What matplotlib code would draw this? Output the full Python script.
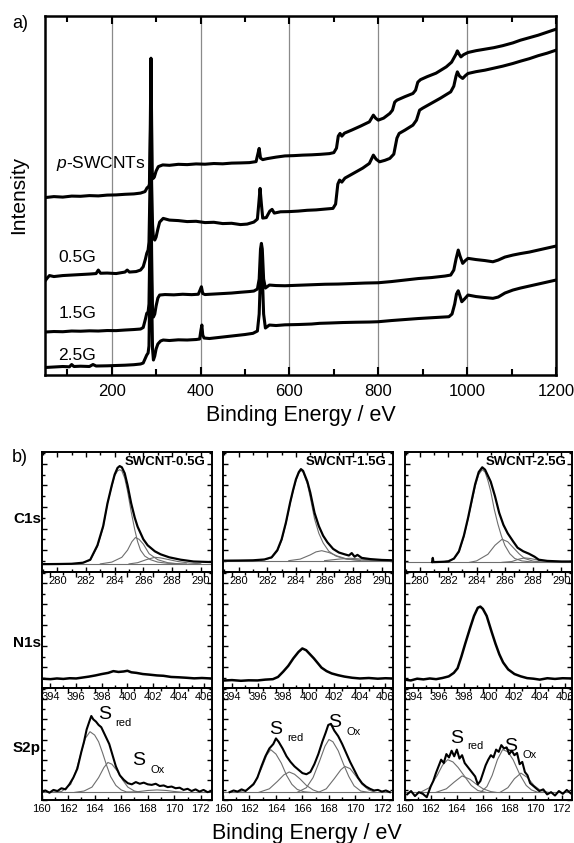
import numpy as np
import matplotlib
matplotlib.use("Agg")
import matplotlib.pyplot as plt
from matplotlib.ticker import MultipleLocator, NullFormatter

plt.rcParams['font.family'] = ['Liberation Sans', 'DejaVu Sans']
plt.rcParams['mathtext.fontset'] = 'custom'
plt.rcParams['mathtext.it'] = 'Liberation Sans:italic'
plt.rcParams['mathtext.rm'] = 'Liberation Sans'

# ---------------- (a) survey spectra (intensity in arbitrary units) ----------------
survey_labels = ["$\\it{p}$-SWCNTs", "0.5G", "1.5G", "2.5G"]

p_E = [50, 70, 90, 110, 130, 150, 170, 190, 210, 230, 250, 265, 275, 280, 283, 285, 287, 288.5, 290, 291.5, 293, 296, 300, 305, 315, 330, 350, 370, 390, 410, 430, 450, 470, 490, 510, 525, 530, 532, 535, 540, 550, 570, 590, 610, 630, 650, 670, 690, 700, 706, 710, 714, 718, 724, 740, 760, 780, 789, 794, 800, 812, 826, 832, 837, 842, 860, 878, 884, 889, 895, 910, 930, 953, 965, 975, 978, 982, 986, 992, 1002, 1020, 1040, 1060, 1080, 1103, 1120, 1140, 1160, 1180, 1200]
p_I = [176.5, 177.5, 177, 178, 177.8, 178.5, 178.2, 179, 179.2, 179.8, 180.2, 181, 182.5, 186.5, 187, 190, 250, 316, 250, 200, 195.5, 197, 203, 207.5, 209.2, 208.8, 209.8, 209.5, 210.2, 209.9, 210.6, 210.3, 211, 211.2, 211.5, 212.5, 222, 225.7, 216, 214.5, 215.5, 217, 218.2, 218.5, 219, 219.3, 219.8, 220.5, 221.5, 226, 238, 240.7, 238, 241, 244, 248, 252.3, 259, 256, 254, 256, 260.7, 264, 272, 274, 277.5, 280.7, 284, 292, 294.5, 297.5, 301, 307.3, 312, 320, 323.3, 320, 317.3, 319.5, 321.7, 323.5, 325, 326.5, 328.5, 331.3, 334, 336.5, 339, 342, 345]

g05_E = [50, 55, 60, 70, 90, 110, 130, 150, 165, 170, 175, 190, 210, 230, 235, 240, 255, 265, 271, 276, 279, 282, 284, 286, 288, 290, 292, 294, 297, 300, 304, 308, 316, 330, 350, 370, 390, 410, 430, 450, 470, 490, 505, 520, 528, 531, 534, 537, 540, 548, 556, 561, 566, 580, 600, 620, 640, 660, 680, 698, 704, 709, 713, 718, 725, 745, 765, 780, 789, 795, 803, 815, 826, 835, 842, 847, 860, 878, 886, 893, 900, 920, 940, 963, 970, 975, 978, 983, 990, 996, 1002, 1020, 1040, 1060, 1080, 1103, 1120, 1140, 1160, 1180, 1200]
g05_I = [93, 96, 98.5, 97.5, 98.5, 99, 99.5, 100, 100.5, 104, 100.8, 101, 100.5, 102, 104, 102, 102.5, 104, 107.3, 115, 120.7, 124, 132, 180, 265, 190, 150, 136, 134, 137, 145, 152, 155.7, 154, 153.5, 152.5, 152.8, 151.5, 151.8, 150.5, 150.8, 149.5, 150, 152, 155, 170, 185.7, 170, 156, 156.5, 163, 164.7, 161, 162.3, 162.5, 163, 163.8, 164.2, 165, 165.7, 170, 190, 194, 192, 196, 201, 206, 210.7, 219, 215, 212.3, 213.8, 215.7, 220, 236, 240.7, 244, 249, 254, 264, 266, 271, 276, 282.3, 288, 298, 302.3, 298, 295.7, 298.5, 300.7, 302.5, 304, 306, 308, 310.7, 313, 315.5, 318.5, 321, 324]

g15_E = [50, 70, 90, 110, 130, 150, 170, 190, 210, 230, 250, 265, 271, 276, 279, 282, 284, 286, 288, 290, 292, 294, 297, 300, 304, 308, 320, 340, 360, 380, 395, 399, 402, 405, 410, 430, 450, 470, 490, 510, 520, 528, 532, 535, 537, 539, 542, 546, 555, 570, 590, 620, 650, 680, 710, 740, 770, 800, 830, 860, 890, 920, 950, 963, 970, 975, 980, 984, 990, 996, 1002, 1020, 1040, 1058, 1070, 1085, 1103, 1120, 1140, 1160, 1180, 1200]
g15_I = [42, 42.5, 42.3, 43, 42.8, 43.2, 43, 43.5, 43.4, 44, 44.5, 45, 46.5, 55, 60.7, 62, 70, 130, 205, 120, 62, 57, 60, 68, 76, 79, 79.5, 79.2, 79.8, 79.4, 79.8, 84, 87.3, 80.5, 79.5, 80, 80.5, 81, 81.8, 82.5, 83, 85, 95, 125, 130.7, 125, 95, 86, 89, 88.5, 88.3, 88.8, 89.3, 89.8, 90, 90.5, 91, 91.3, 92.5, 94, 95.5, 96.5, 98, 99, 104, 115, 124, 118, 110.7, 113.5, 115.7, 114.5, 113.5, 112.3, 114, 117, 119, 120.5, 122, 124, 126, 128]

g25_E = [50, 70, 90, 105, 110, 115, 130, 150, 158, 165, 190, 210, 230, 250, 265, 271, 276, 279, 282, 284, 286, 288, 290, 292, 294, 297, 300, 304, 310, 316, 330, 350, 370, 390, 398, 401, 403, 405, 408, 420, 440, 460, 480, 500, 518, 528, 532, 535, 537, 539, 542, 546, 555, 570, 590, 620, 650, 668, 690, 720, 750, 780, 800, 830, 860, 890, 920, 959, 966, 972, 976, 980, 984, 988, 994, 1002, 1020, 1040, 1058, 1070, 1085, 1103, 1120, 1140, 1160, 1180, 1200]
g25_I = [6.5, 7, 7.5, 7.2, 9.5, 7.5, 7.8, 7.5, 9.5, 8, 8.2, 8.5, 8.8, 9.3, 10, 11, 16, 19, 21, 28, 90, 150, 80, 25, 14, 18, 25, 30, 33, 34, 33.5, 34.2, 34, 34.5, 35, 44, 49, 39, 36, 35.5, 36.5, 37.5, 38.5, 39.5, 40.7, 43, 60, 100, 110, 100, 60, 46, 49, 48.5, 49.2, 49.5, 50, 50.7, 51, 51.5, 51.8, 52, 52.3, 53.5, 54.5, 55.5, 56.3, 57.3, 60, 70, 80, 83.3, 78, 72.3, 75, 79, 77.5, 76.5, 75.7, 77, 81, 84, 86, 88, 90, 92, 94]

survey_E = [p_E, g05_E, g15_E, g25_E]
survey_I = [p_I, g05_I, g15_I, g25_I]
label_E = [176, 123, 123, 123]
label_I = [211, 117, 61, 19]

grid_E = [200, 400, 600, 800, 1000]

# ---------------- (b) high-resolution spectra (percent of panel height) ----------------
col_titles = ["SWCNT-0.5G", "SWCNT-1.5G", "SWCNT-2.5G"]
row_names = ["C1s", "N1s", "S2p"]

# C1s
c1s_data_E = [
    [279, 280, 281, 281.8, 282.3, 282.8, 283.2, 283.5, 283.8, 284.0, 284.2, 284.35, 284.5, 284.7, 284.9, 285.15, 285.4, 285.6, 286.0, 286.3, 286.8, 287.2, 287.8, 288.6, 289.5, 290.8],
    [279, 280, 281, 281.8, 282.3, 282.7, 283.0, 283.3, 283.6, 283.8, 284.0, 284.2, 284.35, 284.5, 284.8, 285.0, 285.3, 285.6, 285.9, 286.2, 286.6, 287.0, 287.4, 287.7, 287.9, 288.1, 288.3, 288.6, 289.2, 290, 290.8],
    [280.85, 280.9, 280.95, 281.5, 282, 282.4, 282.75, 283.1, 283.4, 283.7, 283.9, 284.15, 284.4, 284.6, 284.8, 285.0, 285.3, 285.6, 285.9, 286.2, 286.6, 286.9, 287.3, 287.7, 288.1, 288.4, 289, 290, 290.9],
]
c1s_data_I = [
    [6.3, 6.4, 6.6, 7.5, 10, 22, 38, 57, 72, 81, 86.5, 88, 87, 82, 72, 57, 45, 37.5, 27, 22, 17, 14.5, 12, 10, 8.5, 8],
    [9.2, 9.3, 9.5, 10.2, 12, 18, 27, 41, 58, 68, 77, 83, 85.5, 84, 75, 66, 49, 38, 30, 24.5, 19, 16, 14.5, 13.5, 15.5, 12.5, 14, 11.5, 10.5, 9.8, 9.5],
    [8, 11.5, 8, 8.2, 8.5, 11, 17, 30, 45, 62, 73, 83, 87, 85, 80, 75, 63, 49, 39, 32, 25, 20, 17, 15, 12.5, 10, 9, 8.5, 8.5],
]
c1s_base = [6.3, 9.2, 7.8]
c1s_comp_E = [
    [[281.5, 282.3, 282.8, 283.2, 283.5, 283.8, 284.0, 284.2, 284.35, 284.5, 284.7, 284.9, 285.15, 285.4, 285.6, 285.8, 286.1, 286.5, 287.0, 287.7, 289],
     [283.0, 283.8, 284.5, 284.9, 285.2, 285.45, 285.7, 286.0, 286.4, 287.0, 287.7, 288.5],
     [285.0, 285.6, 286.2, 286.8, 287.2, 287.8, 288.4, 289.2, 290]],
    [[281.5, 282.3, 282.7, 283.0, 283.3, 283.6, 283.8, 284.0, 284.2, 284.35, 284.5, 284.8, 285.0, 285.3, 285.6, 285.9, 286.3, 286.8, 287.5, 288.5, 290],
     [283.5, 284.3, 285.0, 285.4, 285.8, 286.3, 286.9, 287.6, 288.5],
     [286, 287, 287.8, 288.6, 289.5]],
    [[281.5, 282.4, 282.75, 283.1, 283.4, 283.7, 283.9, 284.15, 284.4, 284.6, 284.8, 285.0, 285.25, 285.5, 285.75, 286.0, 286.35, 286.7, 287.2, 288, 289.5],
     [283.5, 284.0, 284.8, 285.3, 285.8, 286.2, 286.6, 287.0, 287.4, 288.0, 288.8],
     [285.8, 286.5, 287.0, 287.4, 287.8, 288.3, 289, 290]],
]
c1s_comp_I = [
    [[6.5, 9.5, 21, 37, 57, 71, 80, 84, 85, 84, 78, 67, 50, 35, 25, 18, 13, 10, 8, 7, 6.5],
     [6.5, 8, 12, 18, 25, 28.5, 27, 23, 15, 10, 7.5, 6.5],
     [6.5, 7.5, 10, 12, 11.5, 10, 8.5, 7.2, 6.6]],
    [[9.2, 11.5, 17, 26, 40, 57, 67, 76, 82, 84.5, 83, 73, 62, 44, 32, 24, 17, 13, 10.5, 9.6, 9.3],
     [9.2, 10.5, 14, 16.5, 17.5, 16, 13, 10.5, 9.3],
     [9.2, 10.5, 11.2, 10.5, 9.4]],
    [[7.8, 10.5, 16, 29, 44, 60, 71, 81, 85, 83, 76, 67, 52, 40, 30, 22, 15, 11, 9, 8, 7.8],
     [7.8, 9, 14.5, 22, 27, 25, 20, 15, 11, 8.8, 7.9],
     [7.8, 8.5, 10.5, 11.5, 11, 9.8, 8.5, 7.9]],
]

# N1s
n1s_E = [
    [393.3, 394, 394.5, 395, 395.5, 396, 396.5, 397, 397.5, 398, 398.5, 398.9, 399.3, 399.7, 400.0, 400.3, 400.7, 401.2, 401.7, 402.3, 402.8, 403.4, 404, 404.6, 405.2, 405.8, 406.5],
    [393.3, 394, 394.7, 395.3, 396, 396.6, 397.2, 397.6, 398.0, 398.4, 398.8, 399.2, 399.5, 399.8, 400.1, 400.4, 400.7, 401.0, 401.4, 401.8, 402.3, 402.8, 403.4, 404, 404.7, 405.4, 406, 406.5],
    [393.3, 393.8, 394.3, 394.8, 395.3, 395.8, 396.3, 396.8, 397.2, 397.5, 397.8, 398.1, 398.5, 398.8, 399.1, 399.3, 399.5, 399.8, 400.2, 400.5, 400.8, 401.1, 401.5, 402, 402.5, 403, 403.5, 404, 404.6, 405.2, 405.8, 406.5],
]
n1s_I = [
    [8, 7.6, 8.2, 7.8, 8.4, 8.2, 9, 9.8, 10.8, 12, 13, 14.5, 13.8, 14.2, 14.8, 13.5, 13, 12, 11.5, 10.8, 10.5, 9.5, 9.2, 8.8, 8.3, 8.6, 8.2],
    [6.4, 6.8, 6.2, 6.6, 6.5, 7.2, 7.6, 9.5, 14, 19, 25.5, 31, 34, 32.5, 29, 25.5, 21.5, 17.5, 14.5, 12.5, 11, 9.8, 8.8, 8.2, 8.6, 8, 8.4, 8.2],
    [7.2, 6.5, 8, 7.4, 8.2, 7.6, 8.6, 10, 13, 17, 27, 38, 52, 62, 69, 70, 68, 62, 48, 38, 29, 22, 16, 12, 10, 8.5, 8, 7.2, 8.4, 7.8, 8.4, 8.2],
]

# S2p
s2p_data_E = [
    [160, 160.3, 160.6, 160.9, 161.2, 161.5, 161.8, 162.1, 162.4, 162.7, 163.0, 163.2, 163.4, 163.6, 163.75, 163.9, 164.1, 164.3, 164.5, 164.7, 164.9, 165.1, 165.3, 165.6, 165.9, 166.2, 166.5, 166.8, 167.1, 167.4, 167.7, 168.0, 168.3, 168.6, 168.9, 169.2, 169.5, 169.8, 170.1, 170.4, 170.7, 171.0, 171.3, 171.6, 171.9, 172.2, 172.5, 172.8],
    [160.5, 160.8, 161.1, 161.4, 161.7, 162.0, 162.3, 162.6, 162.9, 163.2, 163.5, 163.8, 164.0, 164.2, 164.5, 164.8, 165.1, 165.4, 165.7, 166.0, 166.3, 166.6, 166.9, 167.2, 167.5, 167.75, 167.95, 168.15, 168.4, 168.7, 169.0, 169.3, 169.6, 169.9, 170.2, 170.5, 170.8, 171.1, 171.4, 171.7, 172.0, 172.3, 172.6],
    [160.2, 160.5, 160.8, 161.1, 161.4, 161.7, 162.0, 162.2, 162.4, 162.6, 162.8, 163.0, 163.2, 163.4, 163.6, 163.8, 164.0, 164.2, 164.4, 164.6, 164.8, 165.0, 165.2, 165.4, 165.6, 165.8, 166.0, 166.2, 166.4, 166.6, 166.8, 167.0, 167.2, 167.4, 167.6, 167.8, 168.0, 168.2, 168.4, 168.6, 168.8, 169.0, 169.2, 169.4, 169.6, 169.8, 170.0, 170.3, 170.6, 170.9, 171.2, 171.5, 171.8, 172.1, 172.4, 172.7],
]
s2p_data_I = [
    [7, 8.5, 6.5, 9, 8, 10.5, 9.5, 14, 20, 28, 43, 52, 63, 70, 75, 72, 70, 67, 65, 60, 55, 50, 42, 30, 22, 18, 15, 14, 16, 14.5, 15.5, 14, 13.5, 14.5, 12.5, 13, 11.5, 12, 10.5, 11, 9, 10, 8, 9.5, 7.5, 9, 7, 8],
    [7, 8.5, 7.5, 9.5, 8, 11, 14, 20, 30, 39, 46, 50, 55, 52, 46, 39, 34, 30, 27, 24, 23, 25, 32, 41, 52, 60, 67, 68, 62, 57, 50, 42, 34, 27, 20, 15, 12, 10, 8.5, 9, 7.5, 8.5, 7],
    [5, 8, 3.5, 7, 5.5, 2.5, 12, 17, 24, 30, 36, 33, 41, 38, 44, 39, 45, 37, 40, 33, 30, 27, 24, 21, 14, 17, 24, 31, 36, 40, 38, 45, 43, 49, 46, 47, 41, 44, 40, 42, 32, 34, 25, 22, 15, 13, 11, 8, 9.5, 5, 7, 4, 8, 5.5, 9, 6],
]
s2p_base = [6.8, 6.8, 6.8]
s2p_comp_E = [
    [[160.5, 161.5, 162.2, 162.6, 163.0, 163.3, 163.65, 164.0, 164.3, 164.6, 164.9, 165.2, 165.6, 166.0, 166.4, 167],
     [162.5, 163.2, 163.8, 164.3, 164.7, 165.0, 165.3, 165.7, 166.1, 166.5, 167.0, 167.5],
     [166.5, 167.3, 168, 168.7, 169.4, 170, 170.7]],
    [[161.0, 161.8, 162.4, 162.9, 163.3, 163.6, 164.0, 164.4, 164.8, 165.2, 165.6, 166.1, 166.6],
     [162.7, 163.5, 164.1, 164.6, 165.0, 165.4, 165.8, 166.3, 166.8, 167.3],
     [165.6, 166.3, 166.8, 167.3, 167.7, 168.0, 168.3, 168.7, 169.1, 169.5, 169.9, 170.4, 171],
     [167.2, 167.8, 168.4, 168.9, 169.2, 169.6, 170.0, 170.5, 171.0, 171.5]],
    [[161.2, 161.9, 162.5, 162.9, 163.3, 163.7, 164.1, 164.6, 165.1, 165.6, 166.2],
     [162.4, 163.2, 163.8, 164.4, 165.0, 165.5, 166.0, 166.6, 167.0],
     [165.8, 166.3, 166.7, 167.1, 167.5, 167.9, 168.3, 168.8, 169.3, 169.7, 170.2],
     [167.3, 167.9, 168.4, 168.9, 169.4, 169.9, 170.4, 171.0]],
]
s2p_comp_I = [
    [[6.8, 7.5, 14, 26, 43, 55, 61, 58, 52, 42, 31, 21, 13, 9, 7.2, 6.8],
     [6.8, 8, 11.5, 20, 29, 33.5, 32, 26, 18, 11.5, 8, 6.8],
     [6.8, 7.5, 8.5, 9, 8.5, 7.6, 6.8]],
    [[6.8, 9, 16, 28, 40, 45, 41, 33, 22, 14, 9.5, 7.4, 6.8],
     [6.8, 10, 16.5, 22.5, 25, 23, 19, 13, 9, 6.8],
     [6.8, 11, 20, 35, 48, 54, 52, 44, 32, 21, 12.6, 8, 6.8],
     [6.8, 10, 19, 27, 30, 28, 22, 14, 9, 6.8]],
    [[6.8, 11, 22, 31, 36, 34, 29, 21, 13, 8.5, 6.8],
     [6.8, 10, 16, 21.5, 18.5, 14, 10, 7.5, 6.8],
     [6.8, 12, 22, 36, 45, 43, 36, 23, 13, 9, 6.8],
     [6.8, 11, 19, 24, 20, 13, 8.5, 6.8]],
]
# label anchor points (eV, % height) for S_red and S_Ox
sred_pos = [(164.75, 76), (164.0, 62.5), (163.95, 55)]
sox_pos = [(167.3, 35), (168.45, 69), (168.1, 48)]

row_xlim = [(278.9, 290.75), (393.3, 406.55), (160.0, 172.8)]

# ---------------- figure ----------------
W, H = 574, 843
fig = plt.figure(figsize=(W / 100, H / 100), dpi=100)


def rect(x0, y0, x1, y1):
    return [x0 / W, 1 - y1 / H, (x1 - x0) / W, (y1 - y0) / H]


# (a)
axa = fig.add_axes(rect(45, 15.7, 556, 374.5))
for E, I in zip(survey_E, survey_I):
    axa.plot(E, I, color='black', lw=2.2, solid_joinstyle='round')
for g in grid_E:
    axa.axvline(g, color='#8a8a8a', lw=0.9, zorder=0)
for lab, ex, iy in zip(survey_labels, label_E, label_I):
    axa.text(ex, iy, lab, fontsize=12.5, ha='center', va='center')
axa.set_xlim(50, 1200)
axa.set_ylim(-0.5, 358.5)
axa.set_yticks([])
axa.xaxis.set_major_locator(MultipleLocator(200))
axa.xaxis.set_minor_locator(MultipleLocator(100))
axa.tick_params(axis='x', which='both', direction='in', top=True, bottom=True,
                width=1.5, labelsize=12, pad=7)
axa.tick_params(axis='x', which='major', length=6)
axa.tick_params(axis='x', which='minor', length=4)
for s in axa.spines.values():
    s.set_linewidth(1.8)
fig.text(300.5 / W, 1 - 415 / H, "Binding Energy / eV", fontsize=15.5, ha='center', va='center')
fig.text(19 / W, 1 - 195 / H, "Intensity", fontsize=15, rotation=90, ha='center', va='center')
fig.text(12 / W, 1 - 23 / H, "a)", fontsize=13, ha='left', va='center')
fig.text(12 / W, 1 - 457 / H, "b)", fontsize=13, ha='left', va='center')

# (b)
cols_x = [(41.5, 211.5), (223, 392.5), (404.5, 572)]
rows_y = [(451.7, 571.7), (571.7, 688), (688, 800)]
thin = dict(color='#6e6e6e', lw=0.8)

for r in range(3):
    for c in range(3):
        x0, x1 = cols_x[c]
        y0, y1 = rows_y[r]
        ax = fig.add_axes(rect(x0, y0, x1, y1))
        ax.patch.set_visible(False)
        xl = row_xlim[r]
        if r == 0:
            ax.plot(list(xl), [c1s_base[c], c1s_base[c]], **thin)
            for E, I in zip(c1s_comp_E[c], c1s_comp_I[c]):
                ax.plot(E, I, **thin)
            ax.plot(c1s_data_E[c], c1s_data_I[c], color='black', lw=1.6)
            ax.text(0.965, 0.915, col_titles[c], transform=ax.transAxes, ha='right', va='center',
                    fontsize=9.5, fontweight='bold')
        elif r == 1:
            ax.plot(n1s_E[c], n1s_I[c], color='black', lw=1.8)
        else:
            ax.plot(list(xl), [s2p_base[c], s2p_base[c]], **thin)
            for E, I in zip(s2p_comp_E[c], s2p_comp_I[c]):
                ax.plot(E, I, **thin)
            ax.plot(s2p_data_E[c], s2p_data_I[c], color='black', lw=1.5)
            sx, sy = sred_pos[c]
            ax.text(sx, sy, "S", fontsize=14, ha='center', va='center')
            ax.text(sx + 1.45, sy - 7, "red", fontsize=8, ha='center', va='center')
            ox, oy = sox_pos[c]
            ax.text(ox, oy, "S", fontsize=14, ha='center', va='center')
            ax.text(ox + 1.45, oy - 8, "Ox", fontsize=8, ha='center', va='center')
        ax.set_xlim(*xl)
        ax.set_ylim(0, 100)
        ax.xaxis.set_major_locator(MultipleLocator(2))
        ax.xaxis.set_minor_locator(MultipleLocator(1))
        ax.yaxis.set_major_locator(MultipleLocator(18))
        ax.yaxis.set_minor_locator(MultipleLocator(9))
        ax.yaxis.set_major_formatter(NullFormatter())
        ax.tick_params(which='both', direction='in', top=True, bottom=True, left=True, right=True,
                       width=1.0, labelsize=8, pad=3)
        ax.tick_params(which='major', length=3.5)
        ax.tick_params(which='minor', length=2)
        for s in ax.spines.values():
            s.set_linewidth(1.4)

row_label_y = [519, 643, 748]
for name, yy in zip(row_names, row_label_y):
    fig.text(13 / W, 1 - yy / H, name, fontsize=11, fontweight='bold', ha='left', va='center', zorder=10)

fig.text(307 / W, 1 - 833 / H, "Binding Energy / eV", fontsize=15.5, ha='center', va='center')

fig.savefig("out.png", dpi=100)
